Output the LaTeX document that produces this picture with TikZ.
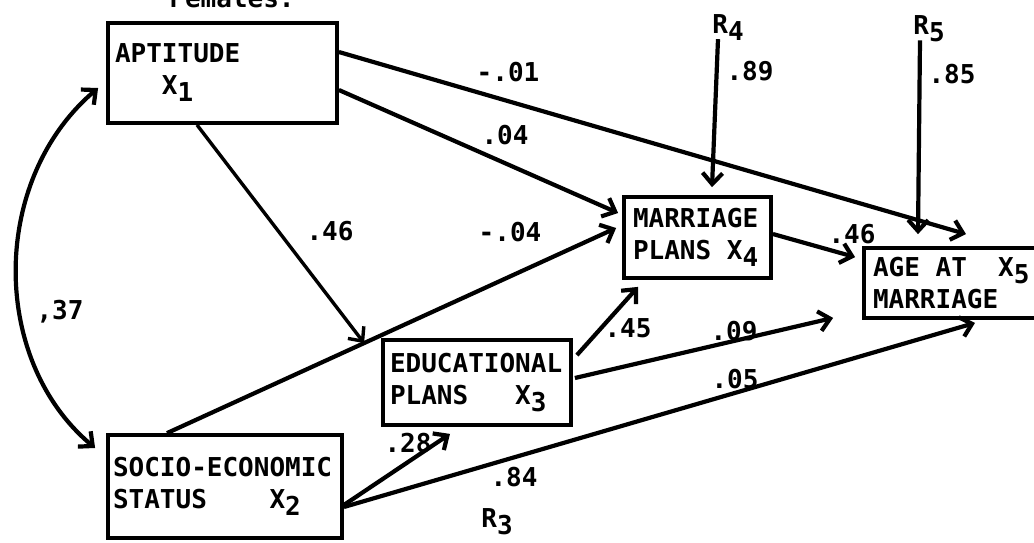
\documentclass[tikz,border=0pt]{standalone}
\usepackage{fontspec}
\setmonofont{DejaVu Sans Mono}
\usetikzlibrary{arrows.meta}
\newcommand\lowsub[1]{\raisebox{-7pt}{#1}}
\newcommand\blanks[1]{\phantom{#1}}

\begin{document}
\begin{tikzpicture}[x=1pt,y=-1pt,
    font=\ttfamily\bfseries\fontsize{26pt}{32pt}\selectfont,
    box/.style={draw,line width=3.8pt,align=left,inner ysep=0pt},
    coef/.style={font=\ttfamily\bfseries\fontsize{26pt}{30pt}\selectfont,inner sep=0pt},
    link/.style={line width=4.2pt,-{Straight Barb[length=11pt,width=20pt]}},
    corr/.style={line width=4.2pt,{Straight Barb[length=11pt,width=20pt]}-{Straight Barb[length=11pt,width=20pt]}}]
    \useasboundingbox (0,0) rectangle (1034,542);

    \node at (232,7) [anchor=base] (title) {Females:};

    \node at (222.5,73) [box,minimum width=229pt,minimum height=100pt,text width=215pt,inner xsep=7pt] (apt) {APTITUDE\\\blanks{APT}X\lowsub{1}};
    \node at (225,486.5) [box,minimum width=234pt,minimum height=103pt,text width=224pt,inner xsep=5pt] (ses) {SOCIO-ECONOMIC\\STATUS\blanks{XXXX}X\lowsub{2}};
    \node at (477,382.5) [box,minimum width=188pt,minimum height=85pt,text width=174pt,inner xsep=7pt] (educ) {EDUCATIONAL\\PLANS\blanks{XXX}X\lowsub{3}};
    \node at (697.5,237.5) [box,minimum width=147pt,minimum height=81pt,text width=129pt,inner xsep=9pt] (marr) {MARRIAGE\\PLANS\blanks{X}X\lowsub{4}};
    \node at (954,283) [box,minimum width=180pt,minimum height=70pt,text width=162pt,inner xsep=9pt] (age) {AGE\blanks{X}AT\blanks{XX}X\lowsub{5}\\MARRIAGE};

    \node at (728,28) [inner sep=0pt] (r4) {R\lowsub{4}};
    \node at (929,29) [inner sep=0pt] (r5) {R\lowsub{5}};
    \node at (497,522) [inner sep=0pt] (r3) {R\lowsub{3}};

    % paths
    \draw[link] ([yshift=21pt]apt.east) -- ([xshift=12pt,yshift=12pt]age.north);
    \draw[link] ([yshift=-17pt]apt.east) -- ([xshift=-4pt,yshift=24.5pt]marr.west);
    \draw[link,line width=3.4pt] ([xshift=-25.5pt]apt.south) -- ([xshift=-17pt,yshift=-5pt]educ.north west);
    \draw[link] ([xshift=-58pt]ses.north) -- ([xshift=-6pt,yshift=9.5pt]marr.west);
    \draw[link] ([yshift=-18.5pt]ses.east) -- ([xshift=-27pt,yshift=-7pt]educ.south);
    \draw[link] ([yshift=-20.5pt]ses.east) -- ([xshift=21pt,yshift=-3pt]age.south);
    \draw[link] ([xshift=4pt,yshift=-17pt]educ.north east) -- ([xshift=-59.5pt,yshift=-7pt]marr.south);
    \draw[link] ([xshift=2pt,yshift=4.5pt]educ.east) -- ([xshift=-29pt,yshift=2pt]age.south west);
    \draw[link] ([yshift=3.5pt]marr.east) -- ([xshift=-7pt,yshift=-11pt]age.north west);
    \draw[link] ([xshift=-10pt,yshift=2pt]r4.south) -- ([xshift=14.5pt,yshift=8pt]marr.north);
    \draw[link] ([xshift=-9pt,yshift=2pt]r5.south) -- ([xshift=-36pt,yshift=12pt]age.north);
    \draw[corr] ([xshift=-8pt,yshift=-15pt]apt.west) .. controls (-10,180) and (-10,360) .. ([xshift=-11pt,yshift=38.5pt]ses.west);

    % coefficients
    \node at (508,72) [coef] (p51) {-.01};
    \node at (505,135) [coef] (p41) {.04};
    \node at (330,231) [coef] (p31) {.46};
    \node at (510,232) [coef] (p42) {-.04};
    \node at (60,312) [coef] (r12) {,37};
    \node at (408,443) [coef] (p32) {.28};
    \node at (514,477) [coef] (p3r) {.84};
    \node at (628,328) [coef] (p43) {.45};
    \node at (734,331) [coef] (p53) {.09};
    \node at (735,379) [coef] (p52) {.05};
    \node at (852,234) [coef] (p54) {.46};
    \node at (750,71) [coef] (p4r) {.89};
    \node at (952,74) [coef] (p5r) {.85};
\end{tikzpicture}
\end{document}
